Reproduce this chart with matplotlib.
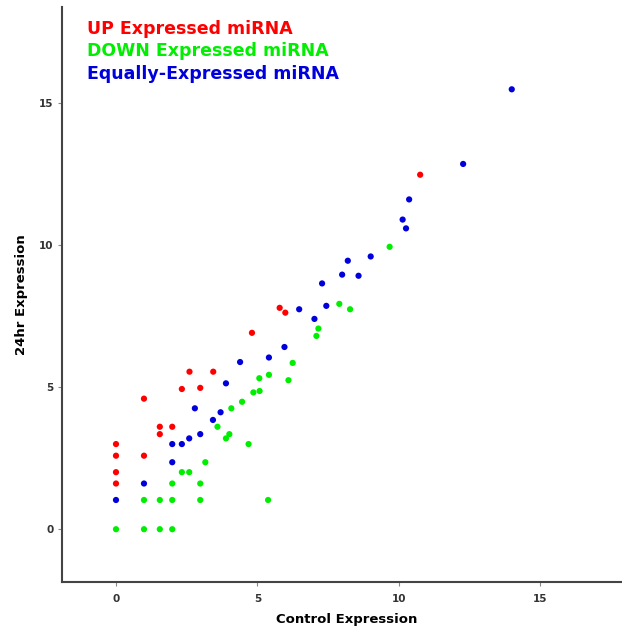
import matplotlib
matplotlib.use("Agg")
import matplotlib.pyplot as plt

# UP expressed (control, 24hr)
up_x = [0, 0, 0, 0, 0.99, 0.99, 1.55, 1.55, 1.99, 2.33, 2.60, 2.98, 3.44, 4.81, 5.79, 5.99, 10.76]
up_y = [1.61, 2.01, 2.59, 3.00, 2.59, 4.60, 3.35, 3.61, 3.61, 4.94, 5.55, 4.98, 5.55, 6.92, 7.80, 7.63, 12.49]

# DOWN expressed
down_x = [0, 0.99, 1.55, 1.99, 0.99, 1.55, 1.99, 2.98, 5.38, 1.99, 2.98, 2.33, 2.59, 3.16, 4.69, 3.89,
          4.01, 3.59, 4.08, 4.46, 4.86, 5.08, 5.07, 5.41, 6.10, 6.25, 7.09, 7.16, 7.90, 8.28, 9.68]
down_y = [0, 0, 0, 0, 1.03, 1.03, 1.03, 1.03, 1.03, 1.61, 1.61, 2.01, 2.01, 2.36, 3.00, 3.20,
          3.35, 3.61, 4.26, 4.49, 4.82, 4.87, 5.32, 5.44, 5.25, 5.86, 6.81, 7.07, 7.94, 7.75, 9.95]

# Equally expressed
eq_x = [0, 0.99, 1.99, 1.99, 2.33, 2.59, 2.98, 2.79, 3.43, 3.70, 3.89, 4.39, 5.41, 5.96, 6.48, 7.02,
        7.44, 7.29, 8.00, 8.58, 8.20, 9.01, 10.26, 10.14, 10.37, 12.28, 14.00]
eq_y = [1.03, 1.61, 2.36, 3.00, 3.00, 3.20, 3.35, 4.26, 3.85, 4.12, 5.14, 5.89, 6.05, 6.42, 7.75, 7.41,
        7.87, 8.66, 8.97, 8.93, 9.46, 9.61, 10.60, 10.91, 11.62, 12.87, 15.50]

ticks = [0, 5, 10, 15]
legend_labels = ["UP Expressed miRNA", "DOWN Expressed miRNA", "Equally-Expressed miRNA"]
colors = ["#ff0000", "#00ee00", "#0000dd"]

fig = plt.figure(figsize=(6.22, 6.29), dpi=100)
ax = fig.add_axes([62 / 622, 1 - 582 / 629, 1 - 62 / 622, (582 - 7) / 629])

for xs, ys, c in [(up_x, up_y, colors[0]), (down_x, down_y, colors[1]), (eq_x, eq_y, colors[2])]:
    ax.scatter(xs, ys, s=20, color=c, edgecolors="none", zorder=3)

ax.set_xlim(-1.91, 17.9)
ax.set_ylim(-1.86, 18.4)
ax.set_xticks(ticks)
ax.set_yticks(ticks)
ax.set_xticklabels([str(t) for t in ticks], fontsize=7.5, fontweight="bold", color="#333333")
ax.set_yticklabels([str(t) for t in ticks], fontsize=7.5, fontweight="bold", color="#333333")
ax.tick_params(direction="out", length=3, width=0.8, color="#888888")
ax.tick_params(axis="x", pad=6)
ax.tick_params(axis="y", pad=3)

for s in ["top", "right"]:
    ax.spines[s].set_visible(False)
for s in ["left", "bottom"]:
    ax.spines[s].set_color("#444444")
    ax.spines[s].set_linewidth(1.5)

fig.text(347 / 622, 1 - 619 / 629, "Control Expression", fontsize=9.5, fontweight="bold",
         ha="center", va="center")
fig.text(22 / 622, 1 - 295 / 629, "24hr Expression", fontsize=9.5, fontweight="bold",
         ha="center", va="center", rotation=90)

for i, (lab, c) in enumerate(zip(legend_labels, colors)):
    fig.text(87 / 622, 1 - (29 + 22.5 * i) / 629, lab, color=c, fontsize=12.5,
             fontweight="bold", va="center", ha="left")

fig.savefig("out.png", dpi=100)
